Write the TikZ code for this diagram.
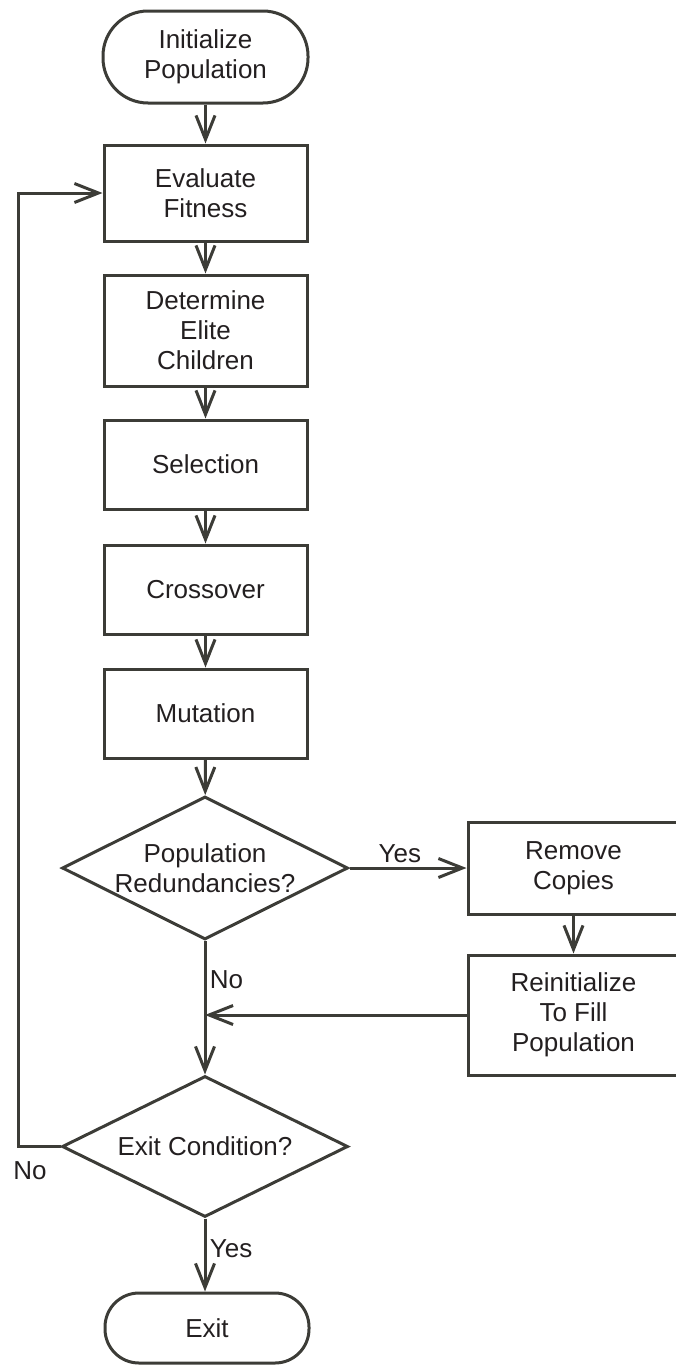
\documentclass[tikz,border=0pt]{standalone}
\usepackage{fontspec}
\setmainfont{Liberation Sans}
\usetikzlibrary{arrows.meta,shapes.geometric}
\definecolor{ln}{RGB}{60,60,55}
\definecolor{tx}{RGB}{35,31,32}
\begin{document}
\begin{tikzpicture}[x=1pt,y=-1pt,
  every node/.style={text=tx, font=\fontsize{26}{30}\selectfont},
  box/.style={draw=ln, line width=3pt, rectangle, minimum width=203pt, align=center, inner sep=0pt},
  term/.style={box, rounded corners=45pt},
  dia/.style={draw=ln, line width=3pt, diamond, minimum width=286pt, minimum height=143pt, inner sep=0pt},
  conn/.style={draw=ln, line width=3pt, -{Straight Barb[length=24pt,width=19pt]}}]
\useasboundingbox (0,0) rectangle (676,1365);

\node[term, minimum height=92pt, minimum width=205pt] (init) at (205.5,57) {Initialize\\Population};
\node[box, minimum height=96pt] (eval) at (205.5,193) {Evaluate\\Fitness};
\node[box, minimum height=111pt] (elite) at (205.5,330.5) {Determine\\Elite\\Children};
\node[box, minimum height=89pt] (sel) at (205.5,464.5) {Selection};
\node[box, minimum height=89pt] (cross) at (205.5,589.5) {Crossover};
\node[box, minimum height=89pt] (mut) at (205.5,713.5) {Mutation};
\node[dia, label={[align=center]center:Population\\Redundancies?}] (red) at (205,868) {};
\node[box, minimum width=211pt, minimum height=92pt] (rem) at (573.5,868) {Remove\\Copies};
\node[box, minimum width=211pt, minimum height=120pt] (reinit) at (573.5,1015) {Reinitialize\\To Fill\\Population};
\node[dia, minimum height=141pt, label=center:Exit Condition?] (exitc) at (205,1146.5) {};
\node[term, minimum height=70pt, minimum width=204pt, rounded corners=34pt] (exit) at (207,1328) {Exit};

\draw[conn] (init) -- (eval);
\draw[conn] (eval) -- (elite);
\draw[conn] (elite) -- (sel);
\draw[conn] (sel) -- (cross);
\draw[conn] (cross) -- (mut);
\draw[conn] (mut) -- (red);
\draw[conn] (red.east) -- (rem.west) node[pos=0.43, above] (yes1) {Yes};
\draw[conn] (rem) -- (reinit);
\draw[conn] (reinit.west) -- (reinit.west -| red.south);
\draw[conn] (red.south) -- (exitc.north) node[pos=0.29, right] (no1) {No};
\draw[conn] (exitc.south) -- (exitc.south |- exit.north) node[pos=0.42, right] (yes2) {Yes};
\coordinate (lp) at (18,1146.5);
\draw[conn] (exitc.west) -- (lp) |- (eval.west);
\node (no2) at (30,1171) {No};
\end{tikzpicture}
\end{document}
